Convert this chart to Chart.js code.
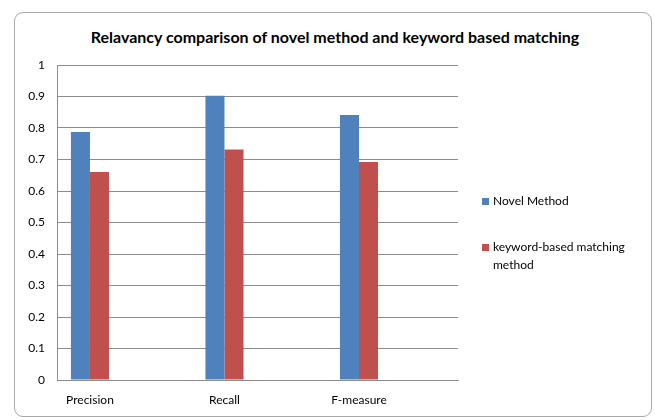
<!DOCTYPE html>
<html>
<head>
<meta charset="utf-8">
<script src="https://cdn.jsdelivr.net/npm/chart.js"></script>
<style>
  body { margin: 0; background: #fff; font-family: Lato, "Open Sans", sans-serif; }
  #wrap { position: relative; width: 655px; height: 420px; overflow: hidden; }
  #frame {
    position: absolute; left: 14px; top: 12px; width: 638px; height: 405px;
    border: 1px solid #a9a9a9; border-radius: 9px; box-sizing: border-box;
  }
  #title {
    position: absolute; left: 0; width: 670px; top: 27px; text-align: center;
    font-weight: bold; font-size: 16px; color: #000;
  }
  canvas { position: absolute; left: 0; top: 0; }
  .leg { position: absolute; left: 482px; font-size: 12px; color: #000; line-height: 18px; }
  .leg i { position: absolute; left: 0; top: 6px; width: 7px; height: 7px; }
  .leg span { display: block; margin-left: 11px; }
</style>
</head>
<body>
<div id="wrap">
  <div id="frame"></div>
  <div id="title">Relavancy comparison of novel method and keyword based matching</div>
  <canvas id="chart" width="655" height="420"></canvas>
  <div class="leg" style="top:192px"><i style="background:#4f81bd"></i><span>Novel Method</span></div>
  <div class="leg" style="top:238px"><i style="background:#c0504d"></i><span>keyword-based matching<br>method</span></div>
</div>
<script>
const categories = ['Precision', 'Recall', 'F-measure'];
const novelMethod = [0.787, 0.902, 0.841];
const keywordMatching = [0.66, 0.732, 0.692];
const yTicks = [0, 0.1, 0.2, 0.3, 0.4, 0.5, 0.6, 0.7, 0.8, 0.9, 1];

const gridColor = '#8c8c8c';
const tickFont = { family: 'Lato, "Open Sans", sans-serif', size: 12 };

// bars sit on index positions 0,1,2 of a linear axis so the clusters can be shifted left like Excel did
function points(values) {
  return values.map((v, i) => ({ x: i, y: v }));
}

new Chart(document.getElementById('chart'), {
  type: 'bar',
  data: {
    datasets: [
      { label: 'Novel Method', data: points(novelMethod), backgroundColor: '#4f81bd' },
      { label: 'keyword-based matching method', data: points(keywordMatching), backgroundColor: '#c0504d' }
    ]
  },
  options: {
    responsive: false,
    animation: false,
    devicePixelRatio: 1,
    layout: { padding: { left: 0, right: 197, top: 65, bottom: 0 } },
    datasets: { bar: { categoryPercentage: 0.283, barPercentage: 1 } },
    plugins: { legend: { display: false }, tooltip: { enabled: false } },
    scales: {
      x: {
        type: 'linear',
        offset: false,
        min: -0.245,
        max: 2.736,
        grid: { display: false, offset: false },
        border: { display: true, color: gridColor },
        afterBuildTicks: s => { s.ticks = categories.map((c, i) => ({ value: i })); },
        afterFit: s => { s.height = 40; },
        ticks: {
          autoSkip: false,
          maxRotation: 0,
          padding: 5,
          color: '#000',
          font: tickFont,
          callback: v => categories[v] ?? ''
        }
      },
      y: {
        min: 0,
        max: 1,
        grid: { color: gridColor, drawTicks: false },
        border: { display: true, color: gridColor },
        afterBuildTicks: s => { s.ticks = yTicks.map(v => ({ value: v })); },
        afterFit: s => { s.width = 57; },
        ticks: { padding: 12, color: '#000', font: tickFont, callback: v => String(v) }
      }
    }
  }
});
</script>
</body>
</html>
